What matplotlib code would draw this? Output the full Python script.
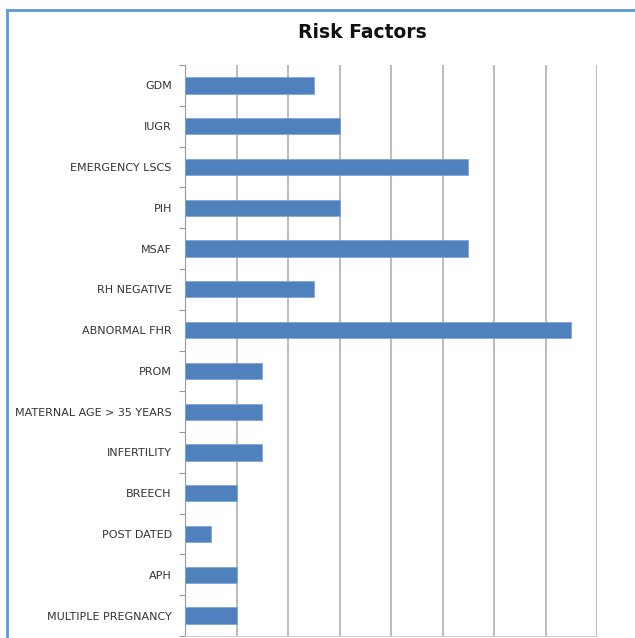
import matplotlib.pyplot as plt
from matplotlib.lines import Line2D

# Risk factor counts
factors = ["GDM", "IUGR", "EMERGENCY LSCS", "PIH", "MSAF", "RH NEGATIVE",
           "ABNORMAL FHR", "PROM", "MATERNAL AGE > 35 YEARS", "INFERTILITY",
           "BREECH", "POST DATED", "APH", "MULTIPLE PREGNANCY"]
counts = [5, 6, 11, 6, 11, 5, 15, 3, 3, 3, 2, 1, 2, 2]
x_ticks = list(range(0, 17, 2))

fig = plt.figure(figsize=(6.35, 6.38), dpi=100)
ax = fig.add_axes([185 / 635, 2 / 638, 412 / 635, 571 / 638])

y_pos = list(range(len(factors)))
ax.barh(y_pos, counts, height=0.4, color="#4F81BD", edgecolor="#7FA7D6",
        linewidth=0.6, zorder=3)

ax.set_ylim(len(factors) - 0.5, -0.5)
ax.set_xlim(0, 16)
ax.set_xticks(x_ticks)
ax.tick_params(axis="x", length=0, labelbottom=False)
ax.xaxis.grid(True, color="#BDBDBD", linewidth=1.5, zorder=0)

# category boundary ticks (major) and labels (minor)
ax.set_yticks([i + 0.5 for i in range(-1, len(factors))], minor=False)
ax.set_yticklabels([])
ax.tick_params(axis="y", length=4, color="#9A9A9A", width=0.8)
ax.set_yticks(y_pos, minor=True)
ax.set_yticklabels(factors, minor=True, fontsize=8, color="#333333")
ax.tick_params(axis="y", which="minor", length=0, pad=9.5)

for side in ["top", "right"]:
    ax.spines[side].set_visible(False)
ax.spines["left"].set_color("#9A9A9A")
ax.spines["bottom"].set_color("#D0D0D0")

fig.text(362 / 635, 1 - 33 / 638, "Risk Factors", ha="center", va="center",
         fontsize=13.5, fontweight="bold", color="#111111")

# blue frame around the chart
fig.add_artist(Line2D([6.5 / 635, 6.5 / 635], [0, 1 - 10 / 638],
                      transform=fig.transFigure, color="#5B9BD5", linewidth=2))
fig.add_artist(Line2D([6.5 / 635, 1], [1 - 10 / 638, 1 - 10 / 638],
                      transform=fig.transFigure, color="#5B9BD5", linewidth=2))

plt.savefig("out.png", dpi=100)
